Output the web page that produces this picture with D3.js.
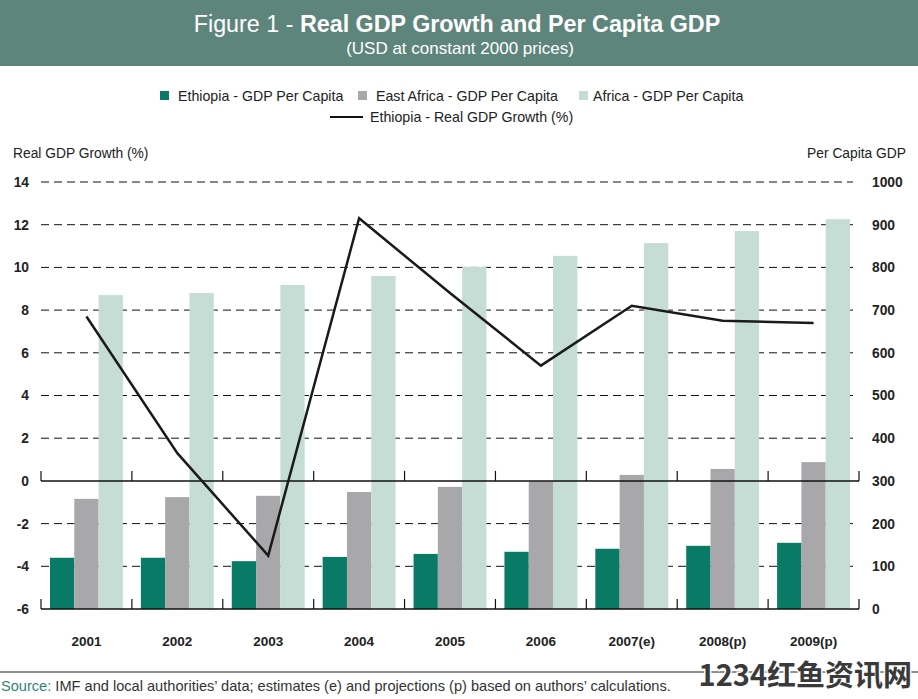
<!DOCTYPE html>
<html><head><meta charset="utf-8">
<script src="https://cdn.jsdelivr.net/npm/d3@7"></script>
<style>
body{margin:0;background:#fff;}
svg{display:block;font-family:"Liberation Sans",Arial,sans-serif;}
</style></head>
<body>
<svg id="chart" width="918" height="699"></svg>
<script>
const categories = ["2001","2002","2003","2004","2005","2006","2007(e)","2008(p)","2009(p)"];
const ethiopiaPerCapita = [120,120,112,122,129,134,141,148,155];
const eastAfricaPerCapita = [258,262,265,274,286,299,314,328,344];
const africaPerCapita = [735,740,759,780,801,827,857,885,913];
const ethiopiaGrowth = [7.7,1.3,-3.5,12.3,8.8,5.4,8.2,7.5,7.4];
const leftTicks = [-6,-4,-2,0,2,4,6,8,10,12,14];
const rightTicks = [0,100,200,300,400,500,600,700,800,900,1000];
const seriesNames = ["Ethiopia - GDP Per Capita","East Africa - GDP Per Capita","Africa - GDP Per Capita"];
const lineName = "Ethiopia - Real GDP Growth (%)";
const colors = ["#087a66","#a8a8aa","#c5ddd5"];

(function(){
const svg = d3.select("#chart");
const pL = 41, pR = 859, pT = 182, pB = 609;

// Header
svg.append("rect").attr("x",0).attr("y",0).attr("width",918).attr("height",66).attr("fill","#5e857b");
const t = svg.append("text").attr("x",457).attr("y",32).attr("text-anchor","middle")
  .attr("fill","#fff").attr("font-size",23.3);
t.append("tspan").text("Figure 1 - ");
t.append("tspan").attr("font-weight","bold").text("Real GDP Growth and Per Capita GDP");
svg.append("text").attr("x",460).attr("y",54).attr("text-anchor","middle").attr("fill","#fff")
  .attr("font-size",17).text("(USD at constant 2000 prices)");

// Legend
const legSq = [160, 358, 579];
const legTx = [178, 376, 593];
seriesNames.forEach((n,i)=>{
  svg.append("rect").attr("x",legSq[i]).attr("y",91).attr("width",9).attr("height",9).attr("fill",colors[i]);
  svg.append("text").attr("x",legTx[i]).attr("y",101).attr("font-size",14.2).attr("fill","#222").text(n);
});
svg.append("line").attr("x1",330).attr("x2",363).attr("y1",117).attr("y2",117).attr("stroke","#111").attr("stroke-width",2);
svg.append("text").attr("x",370).attr("y",122).attr("font-size",14.2).attr("fill","#222").text(lineName);

// Scales
const x = d3.scaleBand().domain(categories).range([pL,pR]).padding(0);
const xs = d3.scaleBand().domain([0,1,2]).range([0,x.bandwidth()]).paddingInner(0).paddingOuter(0.37);
const yL = d3.scaleLinear().domain([-6,14]).range([pB,pT]);
const yR = d3.scaleLinear().domain([0,1000]).range([pB,pT]);

// Axis titles
svg.append("text").attr("x",13).attr("y",158).attr("font-size",13.8).attr("fill","#222").text("Real GDP Growth (%)");
svg.append("text").attr("x",906).attr("y",158).attr("text-anchor","end").attr("font-size",13.8).attr("fill","#222").text("Per Capita GDP");

// Grid lines (dashed)
const gridVals = leftTicks.filter(v=>v!==0 && v!==-6);
svg.append("g").selectAll("line").data(gridVals).join("line")
  .attr("x1",pL).attr("x2",853).attr("y1",d=>yL(d)).attr("y2",d=>yL(d))
  .attr("stroke","#111").attr("stroke-width",1).attr("stroke-dasharray","8,5");

// Left axis
const axL = d3.axisLeft(yL).tickValues(leftTicks).tickSize(0).tickPadding(0).tickFormat(d=>String(d));
const gL = svg.append("g").attr("transform","translate(29,0)").call(axL);
gL.select(".domain").remove();
gL.selectAll("text").attr("font-size",13.8).attr("font-weight","bold").attr("fill","#222").attr("font-family","Liberation Sans, Arial, sans-serif");

// Right axis
const axR = d3.axisRight(yR).tickValues(rightTicks).tickSize(0).tickPadding(0).tickFormat(d=>String(d));
const gR = svg.append("g").attr("transform","translate(872,0)").call(axR);
gR.select(".domain").remove();
gR.selectAll("text").attr("font-size",13.8).attr("font-weight","bold").attr("fill","#222").attr("font-family","Liberation Sans, Arial, sans-serif");

// Bars
const series = [ethiopiaPerCapita, eastAfricaPerCapita, africaPerCapita];
series.forEach((vals,si)=>{
  svg.append("g").selectAll("rect").data(vals).join("rect")
    .attr("x",(d,i)=>x(categories[i])+xs(si))
    .attr("width",xs.bandwidth())
    .attr("y",d=>yR(d))
    .attr("height",d=>yR(0)-yR(d))
    .attr("fill",colors[si]);
});

// Zero line and bottom line with ticks
[0,-6].forEach(v=>{
  svg.append("line").attr("x1",pL).attr("x2",pR).attr("y1",yL(v)).attr("y2",yL(v)).attr("stroke","#111").attr("stroke-width",1.5);
  const bounds = categories.map(c=>x(c)).concat([pR]);
  svg.append("g").selectAll("line").data(bounds).join("line")
    .attr("x1",d=>d).attr("x2",d=>d).attr("y1",yL(v)).attr("y2",yL(v)-10)
    .attr("stroke","#111").attr("stroke-width",1.2);
});

// Growth line
const line = d3.line().x((d,i)=>x(categories[i])+x.bandwidth()/2).y(d=>yL(d));
svg.append("path").datum(ethiopiaGrowth).attr("d",line).attr("fill","none")
  .attr("stroke","#1a1a1a").attr("stroke-width",2.5).attr("stroke-linejoin","miter");

// X labels
svg.append("g").selectAll("text").data(categories).join("text")
  .attr("x",d=>x(d)+x.bandwidth()/2).attr("y",646).attr("text-anchor","middle")
  .attr("font-size",13.5).attr("font-weight","bold").attr("fill","#222").text(d=>d);

// Footer
svg.append("line").attr("x1",0).attr("x2",918).attr("y1",672).attr("y2",672).attr("stroke","#222").attr("stroke-width",1.2);
const s = svg.append("text").attr("x",1).attr("y",691).attr("font-size",14.6).attr("fill","#333");
s.append("tspan").attr("fill","#2f8575").text("Source:");
s.append("tspan").text(" IMF and local authorities\u2019 data; estimates (e) and projections (p) based on authors\u2019 calculations.");

// Watermark
svg.append("text").attr("x",912).attr("y",686).attr("text-anchor","end")
  .attr("font-family","Noto Sans CJK SC, sans-serif").attr("font-weight","bold").attr("font-size",29)
  .attr("fill","#3a3a3a").attr("stroke","#fff").attr("stroke-width",3).attr("paint-order","stroke")
  .text("1234红鱼资讯网");
})();
</script>
</body></html>
